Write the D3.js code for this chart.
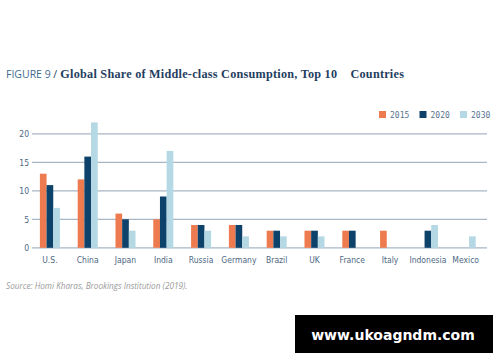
<!DOCTYPE html>
<html>
<head>
<meta charset="utf-8">
<script src="https://cdn.jsdelivr.net/npm/d3@7"></script>
<style>
  body { margin: 0; background: #fff; }
  svg { display: block; }
</style>
</head>
<body>
<div class="chart-box"></div>
<script>
// Data
var countries = ["U.S.", "China", "Japan", "India", "Russia", "Germany", "Brazil", "UK", "France", "Italy", "Indonesia", "Mexico"];
var years = ["2015", "2020", "2030"];
var share2015 = [13, 12, 6, 5, 4, 4, 3, 3, 3, 3, 0, 0];
var share2020 = [11, 16, 5, 9, 4, 4, 3, 3, 3, 0, 3, 0];
var share2030 = [7, 22, 3, 17, 3, 2, 2, 2, 0, 0, 4, 2];
var yTicks = [0, 5, 10, 15, 20];

var colors = ["#ee7a4f", "#0d426b", "#b4d8e4"];
var seriesValues = [share2015, share2020, share2030];

var width = 500, height = 362;

var svg = d3.select(".chart-box").append("svg")
  .attr("width", width)
  .attr("height", height);

// Title
var title = svg.append("text")
  .attr("x", 6)
  .attr("y", 78)
  .style("font-size", "10.5px");
title.append("tspan")
  .attr("fill", "#3e6a8e")
  .style("font-family", "'Open Sans', 'DejaVu Sans', sans-serif")
  .text("FIGURE 9 ");
title.append("tspan")
  .attr("fill", "#1f3e60")
  .style("font-family", "'Liberation Serif', 'DejaVu Serif', serif")
  .style("font-weight", "bold")
  .style("font-size", "12.2px")
  .style("letter-spacing", "0.25px")
  .text("/ Global Share of Middle-class Consumption, Top 10\u00a0\u00a0\u00a0\u00a0Countries");

// Scales
var x = d3.scaleBand()
  .domain(countries)
  .range([31, 31 + 37.8 * 12])
  .paddingInner(0.47)
  .paddingOuter(0.235);

var xInner = d3.scaleBand()
  .domain(years)
  .range([0, x.bandwidth()]);

var y = d3.scaleLinear()
  .domain([0, 20])
  .range([247.8, 133.8]);

// Gridlines
svg.append("g")
  .selectAll("line")
  .data(yTicks)
  .enter()
  .append("line")
  .attr("x1", 32)
  .attr("x2", 487)
  .attr("y1", d => y(d))
  .attr("y2", d => y(d))
  .attr("stroke", "#a7b6c4")
  .attr("stroke-width", 1.3);

// Y axis labels
var yAxis = svg.append("g")
  .attr("transform", "translate(32,0)")
  .call(d3.axisLeft(y).tickValues(yTicks).tickSize(0).tickPadding(3));
yAxis.select(".domain").remove();
yAxis.selectAll("text")
  .attr("fill", "#4d6884")
  .style("font-family", "'DejaVu Sans Condensed', 'Liberation Sans Narrow', sans-serif")
  .style("font-size", "8.5px");

// Bars
var groups = svg.append("g")
  .selectAll("g")
  .data(countries)
  .enter()
  .append("g")
  .attr("transform", d => "translate(" + x(d) + ",0)");

groups.selectAll("rect")
  .data((d, i) => years.map((yr, j) => ({ year: yr, value: seriesValues[j][i], color: colors[j] })))
  .enter()
  .append("rect")
  .attr("x", d => xInner(d.year))
  .attr("y", d => y(d.value))
  .attr("width", xInner.bandwidth())
  .attr("height", d => y(0) - y(d.value))
  .attr("fill", d => d.color);

// X axis labels
var xAxis = svg.append("g")
  .attr("transform", "translate(0," + y(0) + ")")
  .call(d3.axisBottom(x).tickSize(0).tickPadding(9));
xAxis.select(".domain").remove();
xAxis.selectAll("text")
  .attr("fill", "#4d6884")
  .style("font-family", "'DejaVu Sans Condensed', 'Liberation Sans Narrow', sans-serif")
  .style("font-size", "8.5px");

// Legend
var legend = svg.selectAll(".legend")
  .data(years)
  .enter().append("g")
  .attr("class", "legend")
  .attr("transform", (d, i) => "translate(" + (379 + i * 40.5) + ",111)");

legend.append("rect")
  .attr("width", 7)
  .attr("height", 7)
  .attr("fill", (d, i) => colors[i]);

legend.append("text")
  .attr("x", 11)
  .attr("y", 6.5)
  .attr("fill", "#5a7390")
  .style("font-family", "'DejaVu Sans Mono', 'Liberation Mono', monospace")
  .style("font-size", "8px")
  .text(d => d);

// Source
svg.append("text")
  .attr("x", 6)
  .attr("y", 289)
  .attr("fill", "#9a9a9a")
  .style("font-family", "'Open Sans', 'DejaVu Sans', sans-serif")
  .style("font-style", "italic")
  .style("font-size", "8.2px")
  .text("Source: Homi Kharas, Brookings Institution  (2019).");

// Watermark box
svg.append("rect")
  .attr("x", 295)
  .attr("y", 315)
  .attr("width", 198)
  .attr("height", 38)
  .attr("fill", "#000");

svg.append("text")
  .attr("x", 393)
  .attr("y", 340)
  .attr("text-anchor", "middle")
  .attr("fill", "#fff")
  .style("font-family", "'DejaVu Sans', sans-serif")
  .style("font-weight", "bold")
  .style("font-size", "14px")
  .text("www.ukoagndm.com");
</script>
</body>
</html>
